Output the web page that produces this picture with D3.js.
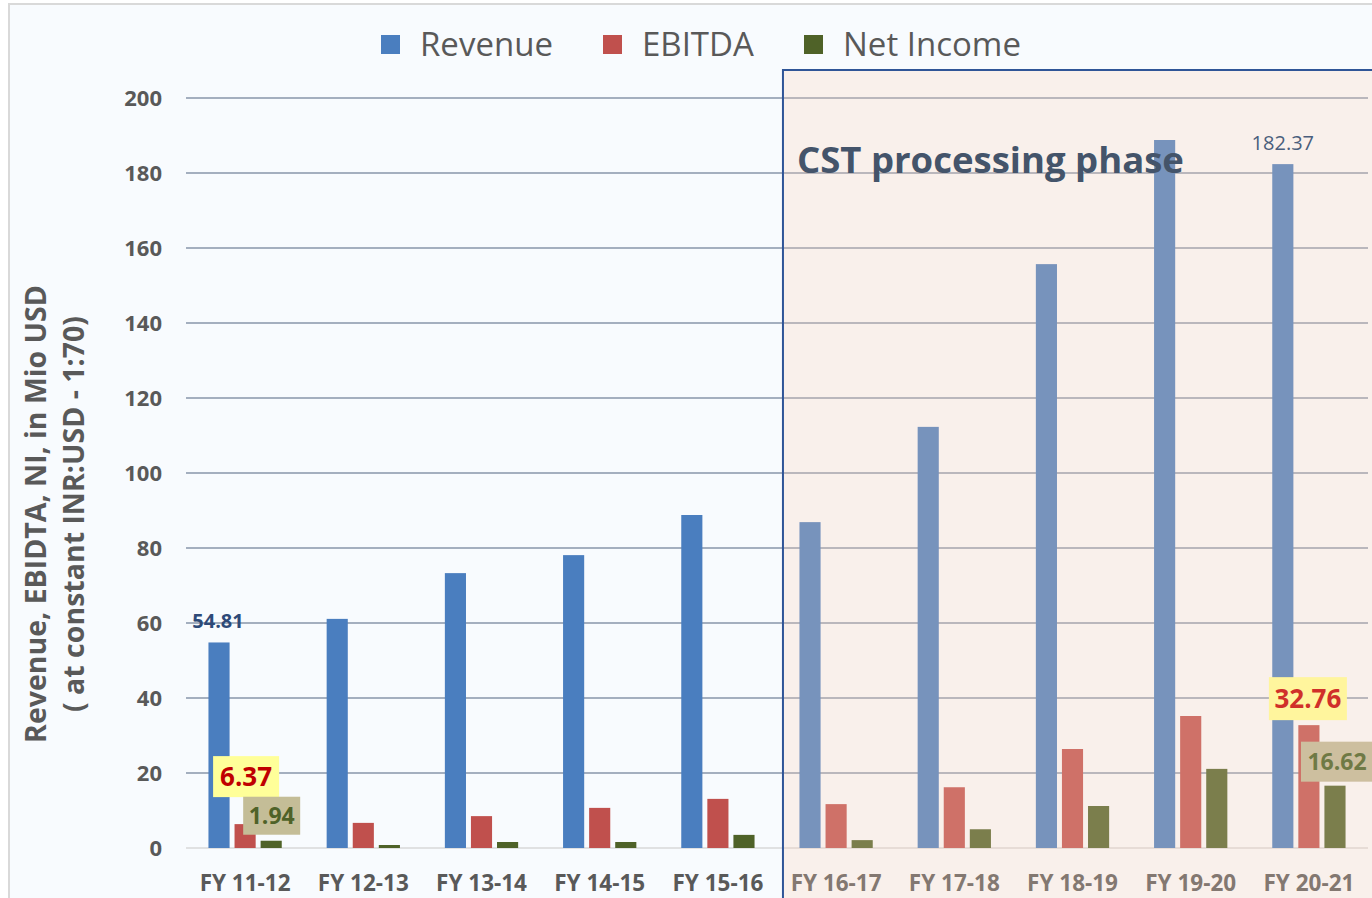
<!DOCTYPE html>
<html>
<head>
<meta charset="utf-8">
<script src="https://cdn.jsdelivr.net/npm/d3@7"></script>
<style>
  body { margin: 0; background: #ffffff; }
  svg { display: block; }
  text { font-family: "Open Sans", "Noto Sans", sans-serif; }
</style>
</head>
<body>
<div id="chart"></div>
<script>
const years = ['FY 11-12', 'FY 12-13', 'FY 13-14', 'FY 14-15', 'FY 15-16',
               'FY 16-17', 'FY 17-18', 'FY 18-19', 'FY 19-20', 'FY 20-21'];
const seriesNames = ['Revenue', 'EBITDA', 'Net Income'];
const revenue = [54.81, 61.1, 73.3, 78.1, 88.8, 86.9, 112.3, 155.7, 188.8, 182.37];
const ebitda = [6.37, 6.7, 8.5, 10.7, 13.1, 11.7, 16.2, 26.4, 35.2, 32.76];
const netIncome = [1.94, 0.8, 1.6, 1.6, 3.5, 2.1, 5.0, 11.2, 21.1, 16.62];
const yTicks = [0, 20, 40, 60, 80, 100, 120, 140, 160, 180, 200];
const colors = ['#4a7ebf', '#c0504d', '#4f6228'];
const phaseStart = 'FY 16-17';

const width = 1372;
const height = 898;
const plotLeft = 186, plotRight = 1368, plotTop = 98, plotBottom = 848;

const svg = d3.select('#chart')
    .append('svg')
    .attr('width', width)
    .attr('height', height);

// frame + background
svg.append('rect')
    .attr('x', 0).attr('y', 0).attr('width', width).attr('height', height)
    .attr('fill', '#ffffff');
svg.append('rect')
    .attr('x', 9).attr('y', 4).attr('width', width).attr('height', height)
    .attr('fill', '#f8fbfe')
    .attr('stroke', '#d9d9d9')
    .attr('stroke-width', 2);

const xScale = d3.scaleBand()
    .domain(years)
    .range([plotLeft, plotRight])
    .paddingInner(0.38)
    .paddingOuter(0.19);

const xInner = d3.scaleBand()
    .domain(seriesNames)
    .range([0, xScale.bandwidth()])
    .paddingInner(0.19);

const yScale = d3.scaleLinear()
    .domain([0, 200])
    .range([plotBottom, plotTop]);

// gridlines
svg.append('g')
    .selectAll('line')
    .data(yTicks)
    .enter()
    .append('line')
    .attr('x1', plotLeft)
    .attr('x2', plotRight)
    .attr('y1', (d) => yScale(d))
    .attr('y2', (d) => yScale(d))
    .attr('stroke', (d) => d === 0 ? '#d9d9d9' : '#8896aa')
    .attr('stroke-width', 1.5);

// y tick labels
const yAxis = svg.append('g')
    .attr('transform', `translate(${plotLeft - 24},0)`)
    .call(d3.axisLeft(yScale).tickValues(yTicks).tickSize(0).tickPadding(0));
yAxis.select('.domain').remove();
yAxis.selectAll('text')
    .attr('font-size', 22)
    .attr('font-weight', 'bold')
    .attr('fill', '#595959')
    .attr('font-family', '"Open Sans", sans-serif');

// x labels
const xAxis = svg.append('g')
    .attr('transform', `translate(0,${plotBottom})`)
    .call(d3.axisBottom(xScale).tickSize(0).tickPadding(27));
xAxis.select('.domain').remove();
xAxis.selectAll('text')
    .attr('font-size', 22.5)
    .attr('font-weight', 'bold')
    .attr('fill', '#595959')
    .attr('font-family', '"Open Sans", sans-serif');

// bars
const rows = years.map((y, i) => ({
    year: y,
    values: [revenue[i], ebitda[i], netIncome[i]]
}));

const groups = svg.append('g')
    .selectAll('g')
    .data(rows)
    .enter()
    .append('g')
    .attr('transform', (d) => `translate(${xScale(d.year)},0)`);

groups.selectAll('rect')
    .data((d) => d.values.map((v, j) => ({ name: seriesNames[j], value: v, idx: j })))
    .enter()
    .append('rect')
    .attr('x', (d) => xInner(d.name))
    .attr('y', (d) => yScale(d.value))
    .attr('width', xInner.bandwidth())
    .attr('height', (d) => plotBottom - yScale(d.value))
    .attr('fill', (d) => colors[d.idx]);

// phase overlay
const phaseX = xScale(phaseStart) - 16.5;
svg.append('rect')
    .attr('x', phaseX)
    .attr('y', 70)
    .attr('width', width - phaseX + 10)
    .attr('height', height)
    .attr('fill', 'rgb(252,208,182)')
    .attr('fill-opacity', 0.26)
    .attr('stroke', '#2f5597')
    .attr('stroke-width', 2)
    .attr('stroke-opacity', 1);

svg.append('text')
    .attr('x', phaseX + 14)
    .attr('y', 173)
    .attr('font-size', 36.5)
    .attr('font-weight', 'bold')
    .attr('fill', '#44546a')
    .text('CST processing phase');

// value labels
const first = 0, last = years.length - 1;
const cx = (i, name) => xScale(years[i]) + xInner(name) + xInner.bandwidth() / 2;

svg.append('text')
    .attr('x', cx(first, 'Revenue') - 1)
    .attr('y', yScale(revenue[first]) - 14)
    .attr('text-anchor', 'middle')
    .attr('font-size', 20)
    .attr('font-weight', 'bold')
    .attr('fill', '#2e4a78')
    .text(revenue[first].toFixed(2));

svg.append('text')
    .attr('x', cx(last, 'Revenue'))
    .attr('y', yScale(revenue[last]) - 14)
    .attr('text-anchor', 'middle')
    .attr('font-size', 20)
    .attr('fill', '#4a5e7c')
    .text(revenue[last].toFixed(2));

function boxLabel(x, y, w, h, txt, bg, fg, size) {
    svg.append('rect')
        .attr('x', x).attr('y', y).attr('width', w).attr('height', h)
        .attr('fill', bg);
    svg.append('text')
        .attr('x', x + w / 2)
        .attr('y', y + h / 2)
        .attr('dy', '0.36em')
        .attr('text-anchor', 'middle')
        .attr('font-size', size)
        .attr('font-weight', 'bold')
        .attr('fill', fg)
        .text(txt);
}

boxLabel(cx(first, 'EBITDA') - 32, yScale(ebitda[first]) - 68, 66, 41,
    ebitda[first].toFixed(2), '#ffff99', '#c00000', 26);
boxLabel(cx(first, 'Net Income') - 28, yScale(netIncome[first]) - 44, 57, 38,
    netIncome[first].toFixed(2), '#c4bd97', '#4f6228', 23);
boxLabel(cx(last, 'EBITDA') - 40, yScale(ebitda[last]) - 48, 78, 43,
    ebitda[last].toFixed(2), '#fff59d', '#d0302a', 26);
boxLabel(cx(last, 'Net Income') - 34, yScale(netIncome[last]) - 44, 72, 40,
    netIncome[last].toFixed(2), '#cdbf9f', '#6f7a45', 23);

// y axis title
const title = svg.append('text')
    .attr('transform', 'translate(0,514) rotate(-90)')
    .attr('text-anchor', 'middle')
    .attr('font-size', 28.5)
    .attr('font-weight', 'bold')
    .attr('fill', '#595959');
title.append('tspan').attr('x', 0).attr('y', 46).text('Revenue, EBIDTA, NI, in Mio USD');
title.append('tspan').attr('x', 0).attr('y', 84).text('( at constant INR:USD - 1:70)');

// legend
const legendX = [381, 603, 804];
const legend = svg.append('g')
    .selectAll('g')
    .data(seriesNames)
    .enter()
    .append('g')
    .attr('transform', (d, i) => `translate(${legendX[i]},44)`);
legend.append('rect')
    .attr('x', 0).attr('y', -9).attr('width', 19).attr('height', 19)
    .attr('fill', (d, i) => colors[i]);
legend.append('text')
    .attr('x', 39)
    .attr('dy', '0.36em')
    .attr('font-size', 33)
    .attr('fill', '#595959')
    .text((d) => d);
</script>
</body>
</html>
